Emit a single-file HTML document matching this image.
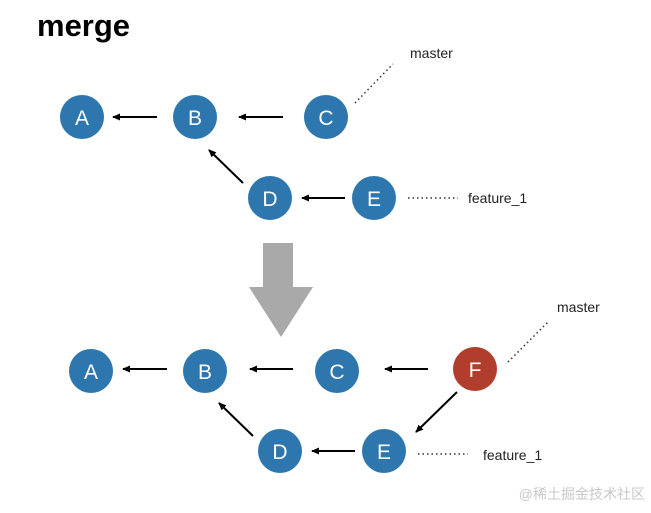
<!DOCTYPE html>
<html><head><style>body{margin:0;background:#fff}</style></head><body>
<svg width="651" height="508" viewBox="0 0 651 508" xmlns="http://www.w3.org/2000/svg" font-family="Liberation Sans, Arial, sans-serif">
<defs><marker id="a" markerWidth="8" markerHeight="8" refX="7" refY="4" orient="auto" markerUnits="userSpaceOnUse"><path d="M0,0.5 L8,4 L0,7.5 Z" fill="#000"/></marker></defs>
<text x="37" y="36" font-size="31" font-weight="bold" fill="#000">merge</text>
<g stroke="#000" stroke-width="2" marker-end="url(#a)">
<line x1="157" y1="117" x2="113" y2="117"/>
<line x1="283" y1="117" x2="239" y2="117"/>
<line x1="243" y1="183" x2="209" y2="150"/>
<line x1="345" y1="198" x2="302" y2="198"/>
<line x1="167" y1="369" x2="123" y2="369"/>
<line x1="293" y1="369" x2="250" y2="369"/>
<line x1="428" y1="369" x2="385" y2="369"/>
<line x1="253" y1="436" x2="219" y2="403"/>
<line x1="355" y1="451" x2="312" y2="451"/>
<line x1="457" y1="392" x2="416" y2="432"/>
</g>
<g stroke="#333" stroke-width="1.5" stroke-dasharray="1.5,3" fill="none">
<line x1="355" y1="103" x2="393" y2="64"/>
<line x1="408" y1="198" x2="458" y2="198"/>
<line x1="508" y1="362" x2="548" y2="322"/>
<line x1="418" y1="454" x2="468" y2="454"/>
</g>
<g fill="#2e77ae">
<circle cx="82" cy="117" r="22"/><circle cx="195" cy="117" r="22"/><circle cx="326" cy="117" r="22"/>
<circle cx="270" cy="198" r="22"/><circle cx="374" cy="198" r="22"/>
<circle cx="91" cy="371" r="22"/><circle cx="205" cy="371" r="22"/><circle cx="337" cy="371" r="22"/>
<circle cx="280" cy="451" r="22"/><circle cx="384" cy="451" r="22"/>
</g>
<circle cx="475" cy="369" r="22" fill="#b13e2c"/>
<g fill="#fff" font-size="21" text-anchor="middle">
<text x="82" y="125">A</text><text x="195" y="125">B</text><text x="326" y="125">C</text>
<text x="270" y="206">D</text><text x="374" y="206">E</text>
<text x="91" y="379">A</text><text x="205" y="379">B</text><text x="337" y="379">C</text>
<text x="280" y="459">D</text><text x="384" y="459">E</text><text x="475" y="377">F</text>
</g>
<g font-size="14" fill="#222">
<text x="410" y="58">master</text>
<text x="468" y="203">feature_1</text>
<text x="557" y="312">master</text>
<text x="483" y="460">feature_1</text>
</g>
<path d="M263,243 H293 V287 H313 L281,337 L249,287 H263 Z" fill="#a9a9a9"/>
<text x="645" y="499" font-size="14" fill="#c8c8c8" text-anchor="end" font-family="Liberation Sans, Noto Sans CJK SC, sans-serif">@稀土掘金技术社区</text>
</svg>
</body></html>
